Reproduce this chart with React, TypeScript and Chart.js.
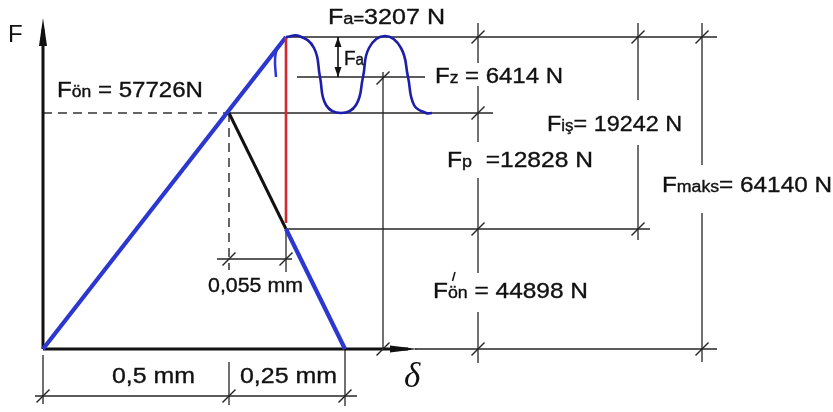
import React, { useEffect, useRef } from "react";
import { Chart, registerables } from "chart.js";

Chart.register(...registerables);

type P = [number, number];

// Schematic diagram units: x = deformation (δ), y = force (F); origin at the axes' corner.
const boltLoading: P[] = [[0, 0], [243, 312]];
const boltUnloading: P[] = [[243, 120], [302, 0]];
const clampedPartLine: P[] = [[186, 236], [243, 120]];
const workingLoadLine: P[] = [[243, 312], [243, 126]];
const loadHook: P[] = [[236, 304], [233, 297], [232, 287], [233, 272]];
const alternatingLoad: P[] = [
  [243, 312], [256, 313], [271, 301], [277, 272], [283, 244], [298, 236],
  [313, 244], [320, 272], [326, 301], [342, 313], [358, 301], [365, 272],
  [371, 244], [383, 236], [389, 236],
];
const yAxisLine: P[] = [[0, 0], [0, 320]];
const xAxisLine: P[] = [[0, 0], [365, 0]];
const yAxisTip: P = [0, 331];
const xAxisTip: P = [375, 0];
const preloadDashH: P[] = [[0, 236], [186, 236]];
const preloadDashV: P[] = [[186, 236], [186, 79]];
const faArrow: P[] = [[295, 312], [295, 272]];

const dimensionLines: P[][] = [
  [[244, 312], [674, 312]],
  [[254, 272], [382, 272]],
  [[186, 236], [450, 236]],
  [[244, 120], [607, 120]],
  [[174, 90], [249, 90]],
  [[243, 120], [243, 77]],
  [[340, 277], [340, 0]],
  [[372, 0], [674, 0]],
  [[435, 326], [435, 286]],
  [[435, 263], [435, 207]],
  [[435, 171], [435, 76]],
  [[435, 37], [435, -14]],
  [[595, 326], [595, 249]],
  [[595, 204], [595, 109]],
  [[659, 326], [659, 184]],
  [[659, 136], [659, -13]],
  [[-8, -47], [314, -47]],
  [[0, -6], [0, -55]],
  [[186, -13], [186, -56]],
  [[302, 0], [302, -57]],
];

const dimensionTicks: P[] = [
  [435, 312], [435, 236], [435, 120], [435, 0],
  [595, 312], [595, 120], [659, 312], [659, 0],
  [340, 271], [340, 0], [186, 90], [243, 90],
  [0, -47], [186, -47], [302, -47],
];

// Label texts: runs of [text, isSubscript]
type Run = [string, boolean];
const labelFa: Run[] = [["F", false], ["a", true], ["=", true], ["3207 N", false]];
const labelFon: Run[] = [["F", false], ["ön", true], [" = ", false], ["57726N", false]];
const labelFaSmall: Run[] = [["F", false], ["a", true]];
const labelFz: Run[] = [["F", false], ["z", true], [" = 6414 N", false]];
const labelFis: Run[] = [["F", false], ["iş", true], ["= 19242 N", false]];
const labelFp: Run[] = [["F", false], ["p", true], ["  =12828 N", false]];
const labelFmaks: Run[] = [["F", false], ["maks", true], ["= 64140 N", false]];
const labelFon2: Run[] = [["F", false], ["ön", true], [" = 44898 N", false]];
const labelDelta055: Run[] = [["0,055 mm", false]];
const labelDelta05: Run[] = [["0,5 mm", false]];
const labelDelta025: Run[] = [["0,25 mm", false]];
const axisLabelF = "F";
const axisLabelDelta = "δ";

const SANS = '"Liberation Sans", Arial, sans-serif';

// layout of the labels (anchor in diagram units, font sizes, target width in px)
const labels: { runs: Run[]; at: P; size: number; sub: number; width: number }[] = [
  { runs: labelFa, at: [285, 325], size: 22, sub: 16, width: 117 },
  { runs: labelFon, at: [14, 252], size: 22, sub: 16, width: 146 },
  { runs: labelFaSmall, at: [301, 284], size: 20, sub: 16, width: 20 },
  { runs: labelFz, at: [392, 266], size: 22, sub: 16, width: 128 },
  { runs: labelFis, at: [504, 218], size: 22, sub: 16, width: 135 },
  { runs: labelFp, at: [404, 182], size: 22, sub: 16, width: 146 },
  { runs: labelFmaks, at: [619, 157], size: 22, sub: 16, width: 170 },
  { runs: labelFon2, at: [390, 51], size: 22, sub: 16, width: 155 },
  { runs: labelDelta055, at: [165, 57], size: 20, sub: 16, width: 95 },
  { runs: labelDelta05, at: [69, -34], size: 22, sub: 16, width: 83 },
  { runs: labelDelta025, at: [197, -34], size: 22, sub: 16, width: 97 },
];

const BLUE = "#2b37cf";
const WAVE = "#1d1eaa";
const RED = "#d02a2e";
const INK = "#111111";
const THIN = "#262626";

function line(pts: P[], color: string, width: number, extra: Record<string, unknown> = {}) {
  return {
    data: pts.map(([x, y]) => ({ x, y })),
    showLine: true,
    borderColor: color,
    backgroundColor: color,
    borderWidth: width,
    pointRadius: 0,
    fill: false,
    ...extra,
  };
}

const overlay = {
  id: "overlay",
  afterDatasetsDraw(chart: any) {
    const ctx: CanvasRenderingContext2D = chart.ctx;
    const xs = chart.scales.x;
    const ys = chart.scales.y;
    const px = (p: P): P => [xs.getPixelForValue(p[0]), ys.getPixelForValue(p[1])];

    ctx.save();
    // dimension ticks
    ctx.strokeStyle = THIN;
    ctx.lineWidth = 1.4;
    for (const t of dimensionTicks) {
      const [x, y] = px(t);
      ctx.beginPath();
      ctx.moveTo(x - 6.5, y + 6.5);
      ctx.lineTo(x + 6.5, y - 6.5);
      ctx.stroke();
    }

    const tri = (a: P, b: P, c: P) => {
      ctx.beginPath();
      ctx.moveTo(a[0], a[1]);
      ctx.lineTo(b[0], b[1]);
      ctx.lineTo(c[0], c[1]);
      ctx.closePath();
      ctx.fill();
    };
    ctx.fillStyle = INK;
    // axis arrowheads
    {
      const [x, y] = px(yAxisTip);
      tri([x, y], [x - 4, y + 28], [x + 4, y + 28]);
      const [x2, y2] = px(xAxisTip);
      tri([x2, y2], [x2 - 28, y2 - 3.5], [x2 - 28, y2 + 3.5]);
    }
    // Fa double arrow heads
    {
      const [x, y] = px(faArrow[0]);
      tri([x, y], [x - 3.5, y + 10], [x + 3.5, y + 10]);
      const [x2, y2] = px(faArrow[1]);
      tri([x2, y2], [x2 - 3.5, y2 - 10], [x2 + 3.5, y2 - 10]);
    }

    // labels
    ctx.textAlign = "left";
    ctx.textBaseline = "alphabetic";
    ctx.fillStyle = INK;
    ctx.strokeStyle = INK;
    ctx.lineWidth = 0.35;
    for (const lb of labels) {
      let natural = 0;
      for (const [t, isSub] of lb.runs) {
        ctx.font = `${isSub ? lb.sub : lb.size}px ${SANS}`;
        natural += ctx.measureText(t).width;
      }
      const sx = lb.width / natural;
      let [cx, cy] = px(lb.at);
      for (const [t, isSub] of lb.runs) {
        ctx.font = `${isSub ? lb.sub : lb.size}px ${SANS}`;
        const w = ctx.measureText(t).width * sx;
        ctx.save();
        ctx.translate(cx, cy);
        ctx.scale(sx, 1);
        ctx.fillText(t, 0, 0);
        ctx.strokeText(t, 0, 0);
        ctx.restore();
        cx += w;
      }
    }
    // prime mark on F'ön
    {
      const [x, y] = px(labels[7].at);
      ctx.lineWidth = 1.5;
      ctx.beginPath();
      ctx.moveTo(x + 22, y - 26);
      ctx.lineTo(x + 19.5, y - 17);
      ctx.stroke();
    }
    // axis labels
    {
      const [x, y] = px([-35, 307]);
      ctx.font = `24px ${SANS}`;
      ctx.fillText(axisLabelF, x, y);
      const [x2, y2] = px([361, -38]);
      ctx.font = `italic 35px "Liberation Serif", "DejaVu Serif", serif`;
      ctx.fillText(axisLabelDelta, x2, y2);
    }
    ctx.restore();
  },
};

export default function App() {
  const ref = useRef<HTMLCanvasElement>(null);

  useEffect(() => {
    document.body.style.margin = "0";
    const datasets: any[] = [];
    datasets.push(line(alternatingLoad, WAVE, 2.6, { tension: 0.45, order: 1 }));
    datasets.push(line(loadHook, BLUE, 2.5, { tension: 0.4, order: 2 }));
    datasets.push(line(workingLoadLine, RED, 2.6, { order: 3 }));
    datasets.push(line(boltLoading, BLUE, 4.2, { order: 4 }));
    datasets.push(line(boltUnloading, BLUE, 4.2, { order: 4 }));
    datasets.push(line(clampedPartLine, INK, 3, { order: 5 }));
    datasets.push(line(yAxisLine, INK, 3, { order: 6 }));
    datasets.push(line(xAxisLine, INK, 3, { order: 6 }));
    datasets.push(line(faArrow, INK, 1.6, { order: 7 }));
    datasets.push(line(preloadDashH, "#333", 1.5, { borderDash: [9, 6], order: 8 }));
    datasets.push(line(preloadDashV, "#333", 1.5, { borderDash: [9, 6], order: 8 }));
    for (const seg of dimensionLines) datasets.push(line(seg, THIN, 1.3, { order: 9 }));

    const chart = new Chart(ref.current as HTMLCanvasElement, {
      type: "scatter",
      data: { datasets },
      options: {
        responsive: false,
        animation: false,
        events: [],
        layout: { padding: 0 },
        plugins: { legend: { display: false }, tooltip: { enabled: false } },
        scales: {
          x: { type: "linear", display: false, min: -43, max: 790 },
          y: { type: "linear", display: false, min: -63, max: 349 },
        },
        elements: { point: { radius: 0 } },
      } as any,
      plugins: [overlay as any],
    });
    return () => chart.destroy();
  }, []);

  return (
    <div style={{ width: 833, height: 412, position: "relative", overflow: "hidden", background: "#fff" }}>
      <canvas ref={ref} width={833} height={412} style={{ display: "block" }} />
    </div>
  );
}
